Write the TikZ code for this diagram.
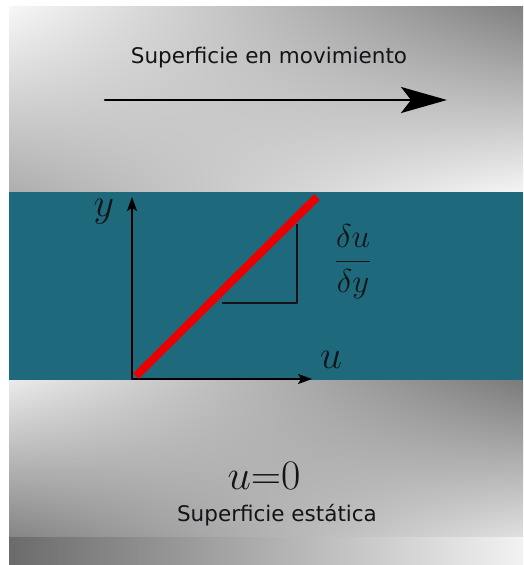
\RequirePackage{fix-cm}
\documentclass[tikz,border=0pt]{standalone}
\usepackage{amsmath}
\usepackage{fontspec}
\setsansfont{DejaVu Sans}
\usetikzlibrary{arrows.meta, shadings}
\definecolor{capa}{RGB}{31,105,125}
\definecolor{tinta}{RGB}{20,20,24}

\begin{document}
\begin{tikzpicture}[x=1pt, y=-1pt, line cap=round, line join=round,
  rotulo/.style={anchor=center, inner sep=0pt, text=tinta},
  eje/.style={line width=1.8pt, draw=black, -{Stealth[length=14pt, width=10pt, inset=3pt]}}]

  %% ════ fondo: placas grises ════
  \shade[shading=bilinear interpolation, upper left=black!3, upper right=black!50, lower left=black!32, lower right=black!4]
    (9,6) rectangle (523,192);
  \shade[shading=bilinear interpolation, upper left=black!8, upper right=black!52, lower left=black!48, lower right=black!12]
    (9,380) rectangle (523,537);
  \shade[left color=black!58, right color=black!5] (9,537) rectangle (523,565);

  %% ════ capa de fluido ════
  \fill[capa] (9,192) rectangle (523,380);

  %% ════ superficie en movimiento ════
  \node[rotulo, font=\sffamily\fontsize{21.5}{26}\selectfont] (arriba) at (269,58) {Superficie en movimiento};
  \coordinate (flechaA) at (105,100);
  \coordinate (flechaB) at (447,100);
  \draw[line width=2.6pt, -{Stealth[length=46pt, width=26pt, inset=10pt]}] (flechaA) -- (flechaB);

  %% ════ ejes ════
  \coordinate (origen) at (132,379);
  \coordinate (ytope) at (132,197);
  \coordinate (ufin) at (312,379);
  \draw[eje] (origen) -- (ytope);
  \draw[eje] (origen) -- (ufin);
  \node[rotulo, font=\fontsize{40}{48}\selectfont] (ylab) at (104,212) {$y$};
  \node[rotulo, font=\fontsize{40}{48}\selectfont] (ulab) at (331,360) {$u$};

  %% ════ perfil de velocidad + pendiente ════
  \coordinate (rojoA) at (136,376);
  \coordinate (rojoB) at (317,197);
  \coordinate (pA) at (222,303);
  \coordinate (pB) at (297,303);
  \coordinate (pC) at (297,224);
  \draw[line width=1.6pt, draw=tinta, line cap=butt] (pA) -- (pB) -- (pC);
  \draw[line width=8pt, draw=red!92!black, line cap=butt] (rojoA) -- (rojoB);
  \node[rotulo, font=\fontsize{33}{40}\selectfont] (frac) at (353,262) {$\dfrac{\delta u}{\delta y}$};

  %% ════ superficie estática ════
  \node[rotulo, font=\fontsize{42}{50}\selectfont] (cero) at (264,476) {$u{=}0$};
  \node[rotulo, font=\sffamily\fontsize{21.5}{26}\selectfont] (abajo) at (277,515) {Superficie estática};

  \pgfresetboundingbox
  \path[use as bounding box] (0,0) rectangle (523,565);
\end{tikzpicture}
\end{document}
